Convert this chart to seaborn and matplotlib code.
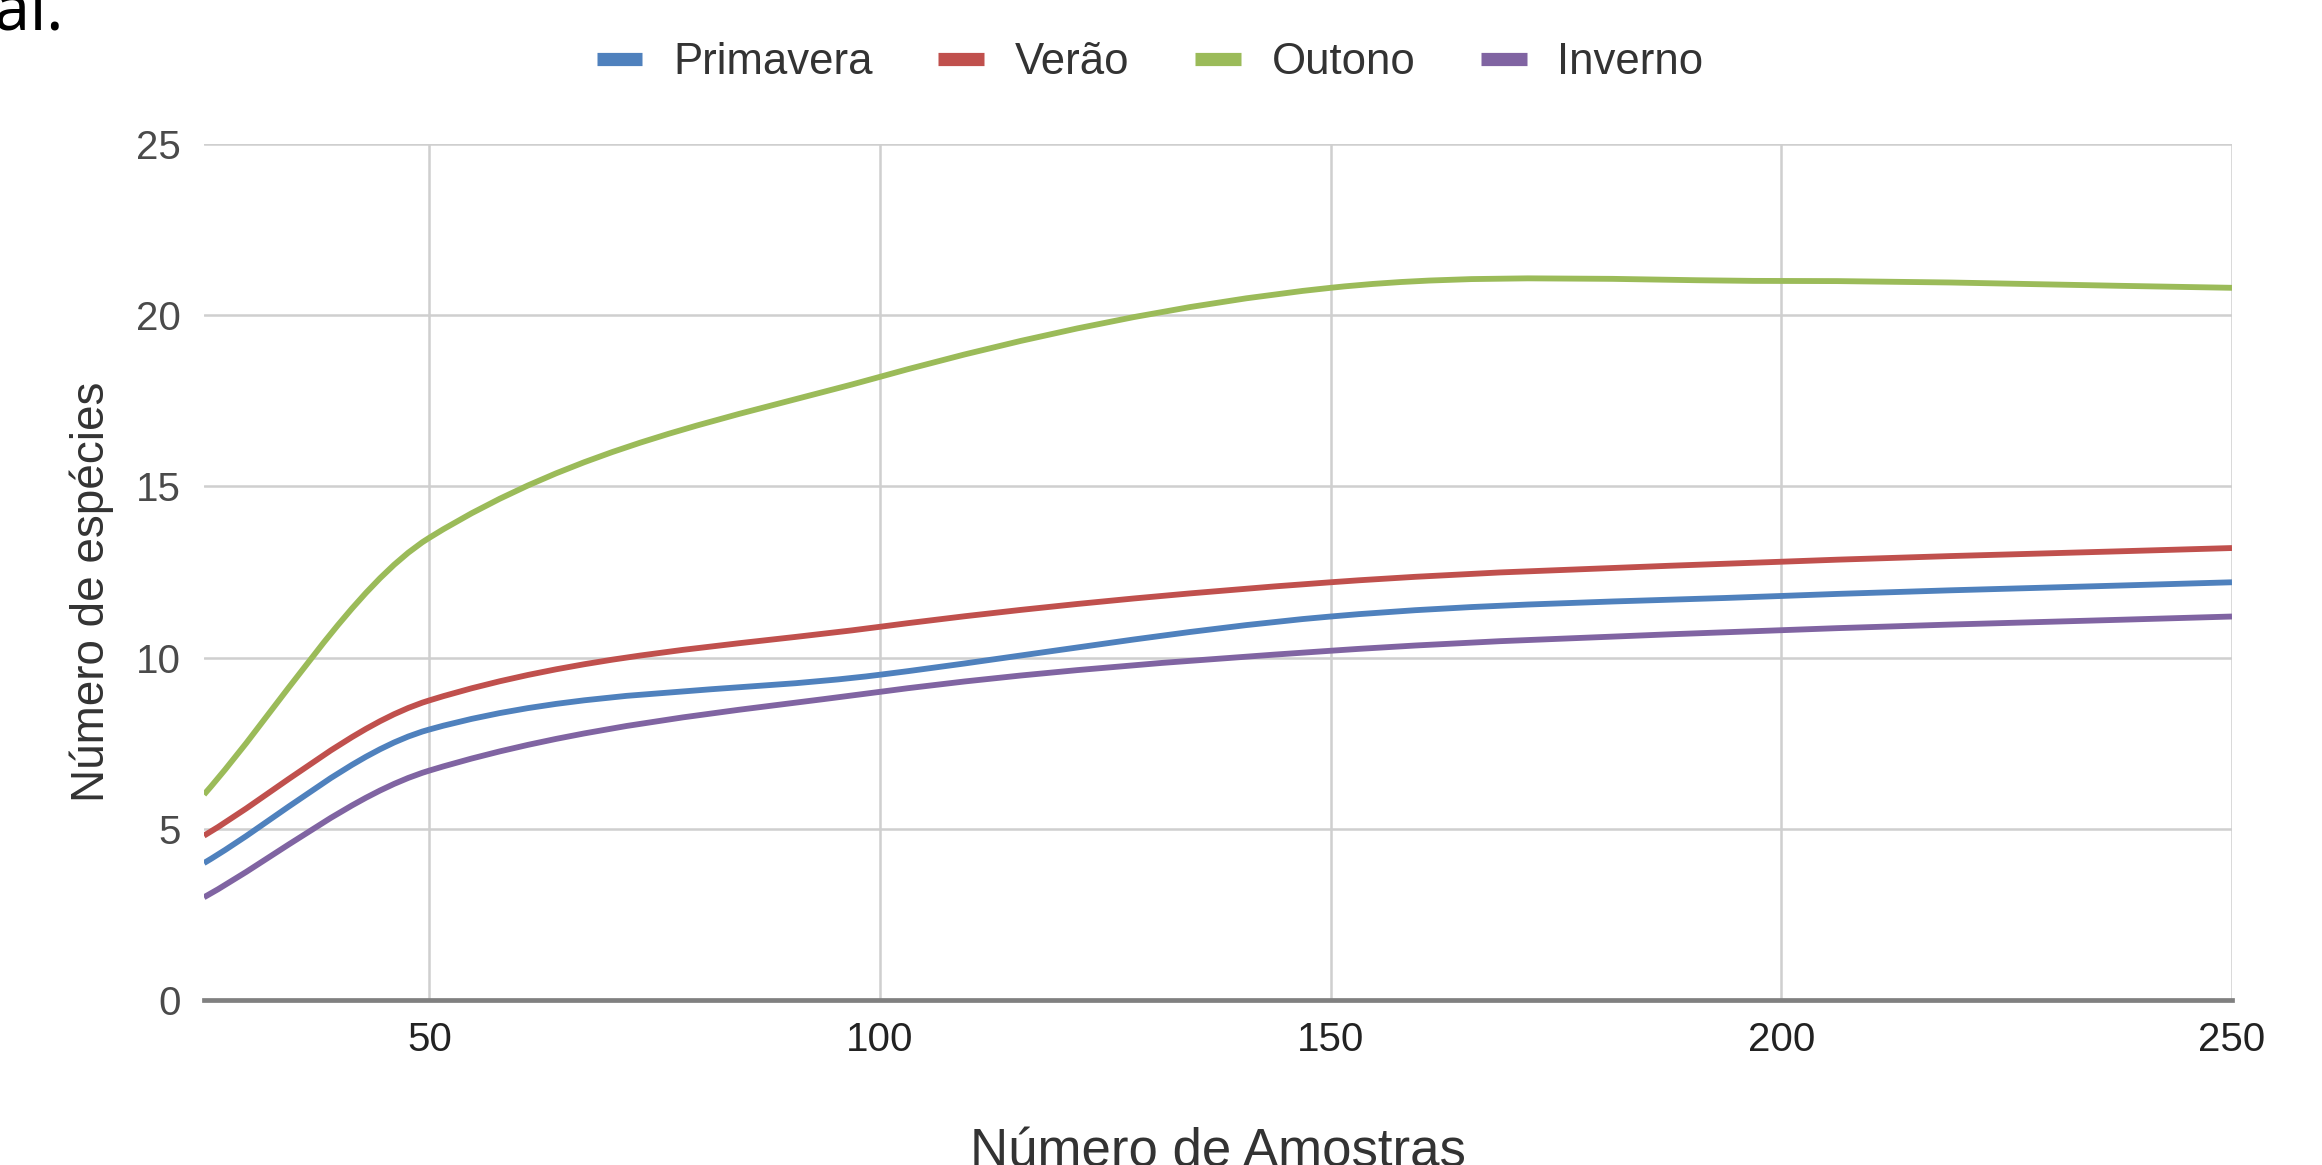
import numpy as np
import pandas as pd
import matplotlib
matplotlib.use("Agg")
import matplotlib.pyplot as plt
from matplotlib.path import Path
from matplotlib.patches import PathPatch
from matplotlib.lines import Line2D
import seaborn as sns

# Accumulated species per number of samples, by season
amostras = [25, 50, 100, 150, 200, 250]
primavera = [4.0, 7.9, 9.5, 11.2, 11.8, 12.2]
verao = [4.8, 8.75, 10.9, 12.2, 12.8, 13.2]
outono = [6.0, 13.5, 18.2, 20.8, 21.0, 20.8]
inverno = [3.0, 6.7, 9.0, 10.2, 10.8, 11.2]

estacoes = ["Primavera", "Verão", "Outono", "Inverno"]
series = [primavera, verao, outono, inverno]
cores = ["#4F81BD", "#C0504D", "#9BBB59", "#8064A2"]

x_ticks = [50, 100, 150, 200, 250]
y_ticks = [0, 5, 10, 15, 20, 25]

df = pd.DataFrame({
    "Número de Amostras": np.tile(amostras, len(estacoes)),
    "Número de espécies": np.concatenate(series),
    "Estação": np.repeat(estacoes, len(amostras)),
})

sns.set_theme(style="whitegrid")
plt.rcParams["font.family"] = ["Liberation Sans", "DejaVu Sans"]

W, H = 2322, 1165
fig = plt.figure(figsize=(W / 100, H / 100), dpi=100)
fig.patch.set_facecolor("white")
ax = fig.add_axes([204 / W, 1 - 1000 / H, (2232 - 204) / W, (1000 - 144) / H])
ax.set_facecolor("white")

palette = dict(zip(estacoes, cores))


def smooth_path(xs, ys):
    """Smoothed line through the points: cubic Hermite segments as Bezier curves."""
    xs = np.asarray(xs, float)
    ys = np.asarray(ys, float)
    n = len(xs)
    slopes = np.empty(n)
    slopes[0] = (ys[1] - ys[0]) / (xs[1] - xs[0])
    slopes[-1] = (ys[-1] - ys[-2]) / (xs[-1] - xs[-2])
    for i in range(1, n - 1):
        slopes[i] = (ys[i + 1] - ys[i - 1]) / (xs[i + 1] - xs[i - 1])
    verts = [(xs[0], ys[0])]
    codes = [Path.MOVETO]
    for i in range(n - 1):
        d = (xs[i + 1] - xs[i]) / 3.0
        verts += [(xs[i] + d, ys[i] + slopes[i] * d),
                  (xs[i + 1] - d, ys[i + 1] - slopes[i + 1] * d),
                  (xs[i + 1], ys[i + 1])]
        codes += [Path.CURVE4] * 3
    return Path(verts, codes)


for nome in estacoes:
    sub = df[df["Estação"] == nome]
    patch = PathPatch(
        smooth_path(sub["Número de Amostras"].values, sub["Número de espécies"].values),
        facecolor="none", edgecolor=palette[nome], linewidth=4.2,
        capstyle="butt", joinstyle="round", zorder=3,
    )
    ax.add_patch(patch)

ax.set_xlim(25, 250)
ax.set_ylim(0, 25)
ax.set_xticks(x_ticks)
ax.set_yticks(y_ticks)
ax.grid(True, color="#CFCFCF", linewidth=1.8)
ax.set_axisbelow(True)
for side in ["top", "right", "left"]:
    ax.spines[side].set_visible(False)
ax.spines["bottom"].set_color("#808080")
ax.spines["bottom"].set_linewidth(3.4)
ax.spines["bottom"].set_zorder(4)

ax.tick_params(axis="y", length=0, pad=17, labelsize=29, labelcolor="#4A4A4A")
ax.tick_params(axis="x", length=0, pad=15, labelsize=29, labelcolor="#222222")
ax.set_xlabel("")
ax.set_ylabel("")

# Axis titles
fig.text(92 / W, 1 - 592 / H, "Número de espécies", rotation=90,
         ha="center", va="center", fontsize=33, color="#333333")
fig.text(1218 / W, 1 - 1167 / H, "Número de Amostras",
         ha="center", va="baseline", fontsize=38, color="#333333")

# Legend across the top
handles = [Line2D([0], [0], color=c, linewidth=9.5, solid_capstyle="butt") for c in cores]
fig.legend(handles, estacoes, loc="center", bbox_to_anchor=(1150 / W, 1 - 63 / H),
           ncol=4, frameon=False, fontsize=31.5, handlelength=1.05, handletextpad=0.7,
           columnspacing=1.5, labelcolor="#333333")

# Tail of the preceding sentence
fig.text(-6 / W, 1 - 30 / H, "al.", ha="left", va="baseline",
         fontsize=46, color="black", family=["Noto Sans", "DejaVu Sans"],
         fontweight="medium")

fig.savefig("out.png", dpi=100, facecolor="white")
